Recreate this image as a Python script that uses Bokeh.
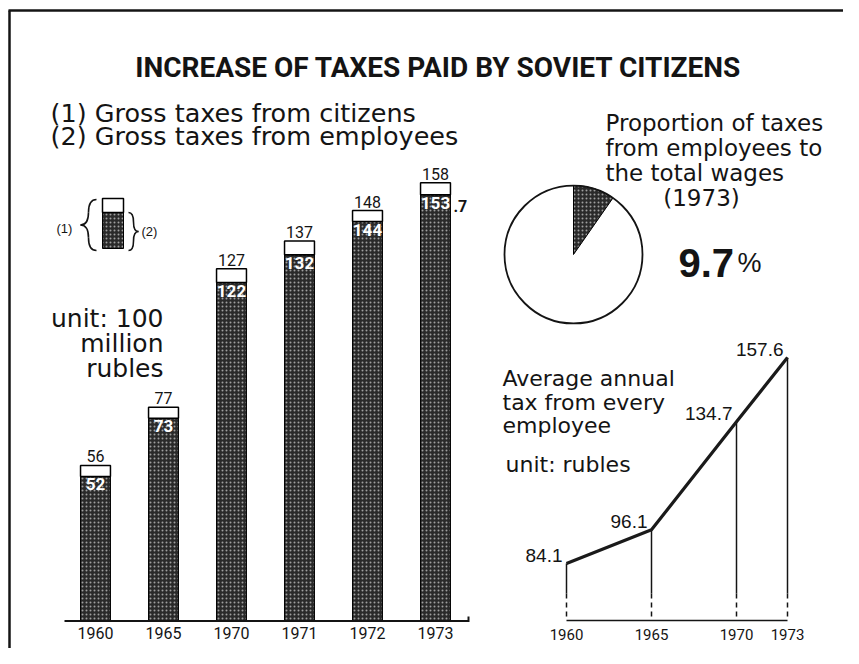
import math
from bokeh.plotting import figure
from bokeh.models import Range1d, ColumnDataSource
from bokeh.core.properties import value
from bokeh.embed import file_html
from bokeh.resources import INLINE

# ---------------- data ----------------
years = ["1960", "1965", "1970", "1971", "1972", "1973"]
gross_citizens = [56, 77, 127, 137, 148, 158]          # (1)
gross_employees = [52, 73, 122, 132, 144, 153.7]       # (2)
pie_share = 9.7                                       # % of total wages (1973)
avg_years = [1960, 1965, 1970, 1973]
avg_tax = [84.1, 96.1, 134.7, 157.6]                  # rubles per employee

title = "INCREASE OF TAXES PAID BY SOVIET CITIZENS"
legend_lines = ["(1) Gross taxes from citizens", "(2) Gross taxes from employees"]
unit_lines = ["unit: 100", "million", "rubles"]
pie_lines = ["Proportion of taxes", "from employees to", "the total wages"]
pie_year = "(1973)"
avg_lines = ["Average annual", "tax from every", "employee"]
avg_unit = "unit: rubles"

NARROW = "Roboto"
SANS = "DejaVu Sans"
ARIAL = "Liberation Sans"
INK = "#141414"
DARK = "#2a2a2a"

# ---------------- layout helpers ----------------
W, H = 843, 648
L, T = 0, 0
R, B = L + W, T + H


def hr(v, px, ppu):
    return Range1d(v - (px - L) / ppu, v + (R - px) / ppu)


def vr(v, px, ppu):
    return Range1d(v - (B - px) / ppu, v + (px - T) / ppu)


p = figure(width=W, height=H, x_range=Range1d(L, R), y_range=Range1d(B, T),
           output_backend="svg", toolbar_location=None, min_border=0,
           x_axis_location=None, y_axis_location=None)
p.grid.visible = False
p.outline_line_color = None
p.background_fill_color = "white"
p.border_fill_color = "white"

LY_ANCHOR, LY_PX, LY_PPU = 118, 468, 2.8
p.extra_x_ranges = {"bx": hr(0, 95, 68), "lx": hr(1960, 566, 17)}
p.extra_y_ranges = {"by": vr(0, 620, 2.77),
                    "ly": vr(LY_ANCHOR, LY_PX, LY_PPU),
                    "pu": Range1d(-B, -T)}


def ly_val(px):
    return LY_ANCHOR - (px - LY_PX) / LY_PPU


hatch = dict(hatch_pattern="dot", hatch_color="white", hatch_scale=4,
             hatch_weight=1, hatch_alpha=0.55)

# frame lines of the clipping
p.segment(x0=[9, 8], y0=[10, 10], x1=[9, 843], y1=[648, 10], line_color=INK, line_width=2.5)

# ---------------- title & legend texts ----------------
p.text(x=[438], y=[67], text=[title], text_align="center", text_baseline="alphabetic",
       text_font=value(NARROW), text_font_style="bold", text_font_size="28px", text_color=INK)
p.text(x=[50, 50], y=[112, 135], text=legend_lines, text_baseline="alphabetic",
       text_font=value(SANS), text_font_size="25.5px", text_color=INK)

# ---------------- bar chart ----------------
idx = list(range(len(years)))
emp_int = [str(int(v)) for v in gross_employees]
src = ColumnDataSource(dict(x=idx, tot=gross_citizens, emp=gross_employees, year=years,
                            tot_lbl=[str(v) for v in gross_citizens], emp_lbl=emp_int))
BW = 0.44
p.vbar(x="x", bottom=0, top="emp", width=BW, fill_color=DARK, line_color="black",
       line_width=1, source=src, x_range_name="bx", y_range_name="by", **hatch)
p.vbar(x="x", bottom="emp", top="tot", width=BW, fill_color="white", line_color="black",
       line_width=1.5, source=src, x_range_name="bx", y_range_name="by")
p.text(x="x", y="tot", text="tot_lbl", source=src, x_range_name="bx", y_range_name="by",
       text_align="center", text_baseline="bottom", y_offset=-3,
       text_font=value(NARROW), text_font_size="16px", text_color=INK)
p.text(x="x", y="emp", text="emp_lbl", source=src, x_range_name="bx", y_range_name="by",
       text_align="center", text_baseline="top", y_offset=2,
       text_font=value(NARROW), text_font_style="bold", text_font_size="17px", text_color="white")
frac_x = [i + BW / 2 for i, v in zip(idx, gross_employees) if v != int(v)]
frac_y = [v for v in gross_employees if v != int(v)]
frac_t = ["." + f"{v:.1f}".split(".")[1] for v in frac_y]
p.text(x=frac_x, y=frac_y, text=frac_t, x_range_name="bx", y_range_name="by",
       text_align="left", text_baseline="top", x_offset=3, y_offset=5,
       text_font=value(NARROW), text_font_style="bold", text_font_size="16px", text_color=INK)
p.text(x="x", y=0, text="year", source=src, x_range_name="bx", y_range_name="by",
       text_align="center", text_baseline="top", y_offset=6,
       text_font=value(NARROW), text_font_size="16px", text_color=INK)
# baseline of the bars
p.segment(x0=[64, 468], y0=[620.5, 616], x1=[468, 468], y1=[620.5, 621.5], line_color=INK, line_width=2)

# unit text
p.text(x=[163] * 3, y=[318, 343, 368], text=unit_lines, text_align="right",
       text_baseline="alphabetic", text_font=value(SANS), text_font_size="25px", text_color=INK)

# legend swatch with braces
p.quad(left=[102], right=[123], top=[212], bottom=[248], fill_color=DARK, line_color="black", **hatch)
p.quad(left=[102], right=[123], top=[198], bottom=[212], fill_color="white", line_color="black", line_width=1.5)


def brace(tip_x, end_x, top, bottom):
    stem = (tip_x + end_x) / 2
    mid = (top + bottom) / 2
    r = min(abs(end_x - tip_x), (bottom - top) / 4)
    qx0 = [end_x, stem, tip_x, stem]
    qy0 = [top, mid - r, mid, bottom - r]
    qx1 = [stem, tip_x, stem, end_x]
    qy1 = [top + r, mid, mid + r, bottom]
    qcx = [stem, stem, stem, stem]
    qcy = [top, mid, mid, bottom]
    p.quadratic(x0=qx0, y0=qy0, x1=qx1, y1=qy1, cx=qcx, cy=qcy, line_color=INK, line_width=1.6)
    p.segment(x0=[stem, stem], y0=[top + r, mid + r], x1=[stem, stem], y1=[mid - r, bottom - r],
              line_color=INK, line_width=1.6)


brace(80, 96, 199, 250)
brace(138, 128, 212, 250)
p.text(x=[56, 141], y=[228, 231], text=["(1)", "(2)"], text_baseline="middle",
       text_font=value(ARIAL), text_font_size="13px", text_color=INK)

# ---------------- pie ----------------
PCX, PCY, PR = 573, -254, 69
p.circle(x=[PCX], y=[PCY], radius=PR, radius_units="screen", fill_color="white",
         line_color=None, y_range_name="pu")
p.wedge(x=[PCX], y=[PCY], radius=PR, radius_units="screen",
        start_angle=math.pi / 2 - 2 * math.pi * pie_share / 100, end_angle=math.pi / 2,
        fill_color=DARK, line_color="black", line_width=1, y_range_name="pu", **hatch)
p.circle(x=[PCX], y=[PCY], radius=PR, radius_units="screen", fill_color=None,
         line_color=INK, line_width=1.8, y_range_name="pu")
p.text(x=[605] * 3, y=[122, 147, 172], text=pie_lines, text_baseline="alphabetic",
       text_font=value(SANS), text_font_size="23px", text_color=INK)
p.text(x=[701], y=[197], text=[pie_year], text_align="center", text_baseline="alphabetic",
       text_font=value(SANS), text_font_size="23px", text_color=INK)
p.text(x=[678], y=[262], text=[f"{pie_share}"], text_baseline="alphabetic",
       text_font=value(ARIAL), text_font_style="bold", text_font_size="40px", text_color=INK)
p.text(x=[737], y=[262], text=["%"], text_baseline="alphabetic",
       text_font=value(ARIAL), text_font_size="27px", text_color=INK)

# ---------------- line chart ----------------
brk = ly_val(593)
floor = ly_val(620)
n = len(avg_years)
p.segment(x0=avg_years, y0=avg_tax, x1=avg_years, y1=[brk] * n, line_color=INK, line_width=1.5,
          x_range_name="lx", y_range_name="ly")
p.segment(x0=avg_years, y0=[brk] * n, x1=avg_years, y1=[floor] * n, line_color=INK,
          line_width=1.5, line_dash="5 4", x_range_name="lx", y_range_name="ly")
p.segment(x0=[avg_years[0]], y0=[floor], x1=[avg_years[-1]], y1=[floor], line_color=INK,
          line_width=1.5, x_range_name="lx", y_range_name="ly")
p.line(x=avg_years, y=avg_tax, line_color="#1a1a1a", line_width=3.2,
       x_range_name="lx", y_range_name="ly")
p.text(x=avg_years, y=avg_tax, text=[f"{v}" for v in avg_tax], x_range_name="lx", y_range_name="ly",
       text_align="right", text_baseline="alphabetic", x_offset=-4, y_offset=-8,
       text_font=value(ARIAL), text_font_size="19px", text_color=INK)
p.text(x=avg_years, y=[floor] * n, text=[str(y) for y in avg_years], x_range_name="lx", y_range_name="ly",
       text_align="center", text_baseline="top", y_offset=8,
       text_font=value(NARROW), text_font_size="15px", text_color=INK)
p.text(x=[502] * 3, y=[378, 402, 425], text=avg_lines, text_baseline="alphabetic",
       text_font=value(SANS), text_font_size="22px", text_color=INK)
p.text(x=[505], y=[464], text=[avg_unit], text_baseline="alphabetic",
       text_font=value(SANS), text_font_size="22px", text_color=INK)

open("out.html", "w").write(file_html(p, INLINE))
